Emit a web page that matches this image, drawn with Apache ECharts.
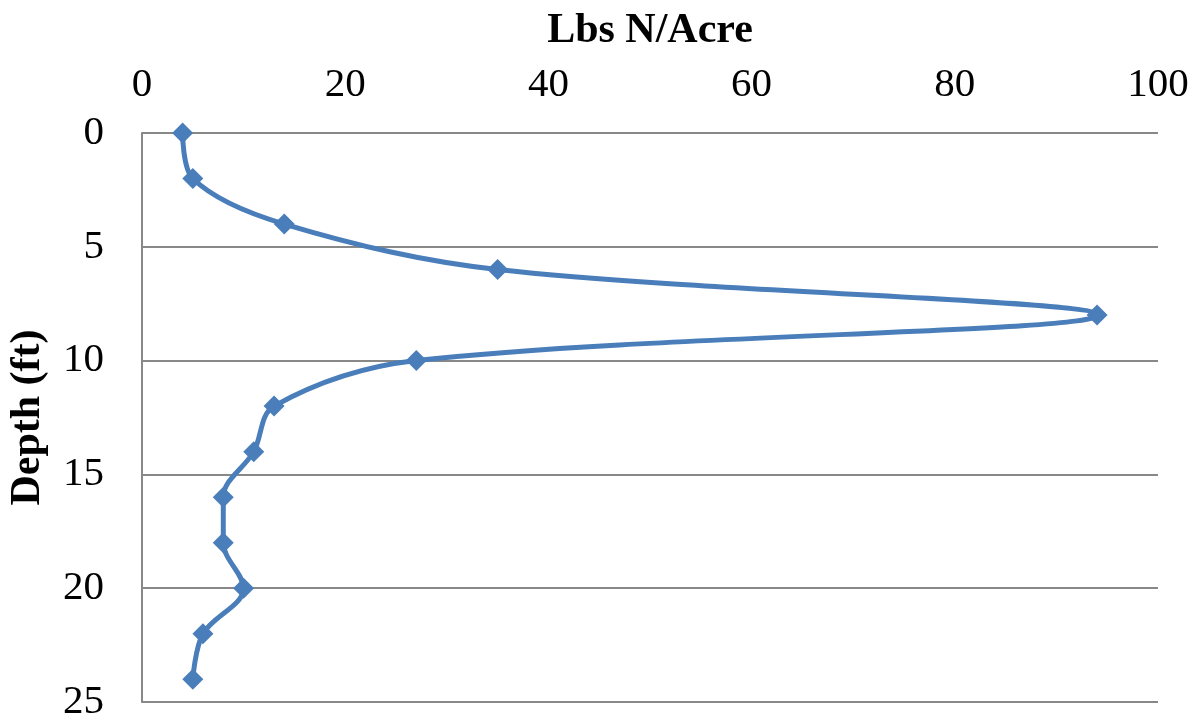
<!DOCTYPE html>
<html><head><meta charset="utf-8">
<script src="https://cdn.jsdelivr.net/npm/echarts@6/dist/echarts.min.js"></script>
<style>html,body{margin:0;padding:0;background:#fff}#c{width:1195px;height:721px}</style>
</head><body><div id="c"></div>
<script>
const depths = [0, 2, 4, 6, 8, 10, 12, 14, 16, 18, 20, 22, 24];
const lbsN = [4, 5, 14, 35, 94, 27, 13, 11, 8, 8, 10, 6, 5];
const xTitle = 'Lbs N/Acre';
const yTitle = 'Depth (ft)';

const chart = echarts.init(document.getElementById('c'));
const font = 'Liberation Serif, Times New Roman, serif';
chart.setOption({
  animation: false,
  grid: {left: 142, right: 37, top: 133, bottom: 19, outerBoundsMode: 'none', containLabel: false},
  xAxis: {
    type: 'value', position: 'top', min: 0, max: 100, interval: 20,
    name: xTitle, nameLocation: 'middle', nameGap: 81,
    nameTextStyle: {fontFamily: font, fontSize: 42, fontWeight: 'bold', color: '#000'},
    axisLine: {show: false}, axisTick: {show: false}, splitLine: {show: false},
    axisLabel: {fontFamily: font, fontSize: 41, color: '#000', margin: 27}
  },
  yAxis: {
    type: 'value', inverse: true, min: 0, max: 25, interval: 5,
    name: yTitle, nameLocation: 'middle', nameGap: 93, nameRotate: 90,
    nameTextStyle: {fontFamily: font, fontSize: 42, fontWeight: 'bold', color: '#000'},
    axisLine: {show: true, lineStyle: {color: '#888', width: 2}}, axisTick: {show: false},
    splitLine: {show: true, lineStyle: {color: '#888', width: 2}},
    axisLabel: {fontFamily: font, fontSize: 41, color: '#000', margin: 38}
  },
  series: [{
    type: 'line',
    data: depths.map((d, i) => [lbsN[i], d]),
    smooth: 0.35,
    symbol: 'diamond', symbolSize: 21,
    lineStyle: {color: '#4a7ebb', width: 5},
    itemStyle: {color: '#4a7ebb'}
  }]
});
</script></body></html>
